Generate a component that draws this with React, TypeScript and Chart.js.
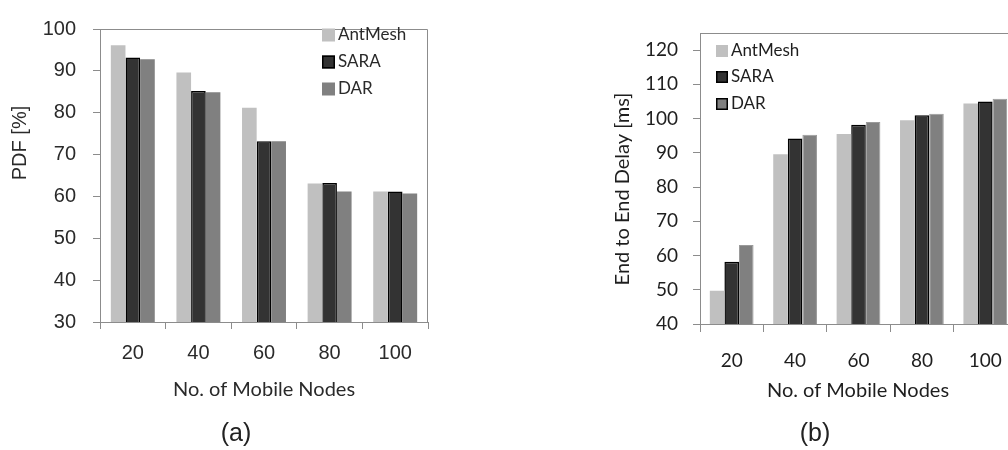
import React, { useEffect, useRef } from 'react';
import { Chart, registerables } from 'chart.js';

Chart.register(...registerables);

// ---------- data ----------
const categories = ['20', '40', '60', '80', '100'];
const seriesNames = ['AntMesh', 'SARA', 'DAR'];

const pdfAntMesh = [96.1, 89.6, 81.2, 63.1, 61.2];
const pdfSara = [93.2, 85.2, 73.2, 63.2, 61.2];
const pdfDar = [92.8, 84.9, 73.2, 61.2, 60.7];
const pdfTicks = [30, 40, 50, 60, 70, 80, 90, 100];

const delayAntMesh = [49.7, 89.6, 95.5, 99.5, 104.4];
const delaySara = [58.2, 94.2, 98.2, 101.0, 105.0];
const delayDar = [63.1, 95.3, 99.0, 101.4, 105.8];
const delayTicks = [40, 50, 60, 70, 80, 90, 100, 110, 120];

const seriesColors = ['#c0c0c0', '#333333', '#808080'];

// ---------- overlay plugin: frame, legend, axis titles ----------
const overlayPlugin = {
  id: 'overlay',
  afterDraw(chart: any, _args: any, opts: any) {
    const ctx = chart.ctx;
    const a = chart.chartArea;
    ctx.save();
    // top/right frame
    ctx.strokeStyle = opts.frameColor;
    ctx.lineWidth = 1;
    ctx.beginPath();
    ctx.moveTo(a.left, Math.round(a.top) + 0.5);
    ctx.lineTo(Math.round(a.right) - 0.5, Math.round(a.top) + 0.5);
    ctx.lineTo(Math.round(a.right) - 0.5, a.bottom);
    ctx.stroke();

    // legend
    const lg = opts.legend;
    chart.data.datasets.forEach((ds: any, i: number) => {
      const y = lg.y[i];
      const s = lg.size;
      ctx.fillStyle = ds.backgroundColor;
      ctx.fillRect(lg.x, y - s / 2, s, s);
      if (ds.borderWidth) {
        ctx.strokeStyle = '#000';
        ctx.lineWidth = 1.5;
        ctx.strokeRect(lg.x + 0.75, y - s / 2 + 0.75, s - 1.5, s - 1.5);
      }
      ctx.fillStyle = opts.textColor;
      ctx.font = lg.font;
      ctx.textAlign = 'left';
      ctx.textBaseline = 'middle';
      ctx.fillText(ds.label, lg.x + s + lg.gap, y);
    });

    // x title
    ctx.fillStyle = opts.textColor;
    ctx.font = opts.xTitle.font;
    ctx.textAlign = 'center';
    ctx.textBaseline = 'middle';
    ctx.fillText(opts.xTitle.text, opts.xTitle.x, opts.xTitle.y);

    // y title
    ctx.save();
    ctx.translate(opts.yTitle.x, opts.yTitle.y);
    ctx.rotate(-Math.PI / 2);
    ctx.font = opts.yTitle.font;
    ctx.textAlign = 'center';
    ctx.textBaseline = 'middle';
    ctx.fillText(opts.yTitle.text, 0, 0);
    ctx.restore();

    ctx.restore();
  },
};

function makeDatasets(values: number[][], borderB: boolean) {
  return values.map((v, i) => ({
    label: seriesNames[i],
    data: v,
    backgroundColor: seriesColors[i],
    borderColor: i === 1 ? '#000000' : borderB && i === 2 ? '#9a9a9a' : 'transparent',
    borderWidth: i === 1 ? 1.5 : borderB && i === 2 ? 1 : 0,
    borderSkipped: 'bottom' as const,
  }));
}

function PdfChart() {
  const ref = useRef<HTMLCanvasElement>(null);
  useEffect(() => {
    if (!ref.current) return;
    const chart = new Chart(ref.current, {
      type: 'bar',
      data: {
        labels: categories,
        datasets: makeDatasets([pdfAntMesh, pdfSara, pdfDar], false),
      },
      options: {
        animation: false,
        responsive: false,
        layout: { padding: { left: 0, top: 16, right: 12, bottom: 0 } },
        datasets: { bar: { categoryPercentage: 0.67, barPercentage: 1.0 } },
        plugins: {
          legend: { display: false },
          tooltip: { enabled: false },
          overlay: {
            frameColor: '#8c8c8c',
            textColor: '#2a2a2a',
            legend: { x: 322, y: [35, 62, 89], size: 13, gap: 3, font: '17px Lato' },
            xTitle: { text: 'No. of Mobile Nodes', x: 264, y: 390, font: '20px Lato' },
            yTitle: { text: 'PDF [%]', x: 20, y: 143, font: '20px "Liberation Sans"' },
          },
        } as any,
        scales: {
          x: {
            type: 'category',
            offset: true,
            afterFit: (s: any) => { s.height = 98; },
            grid: { display: true, offset: true, drawOnChartArea: false, drawTicks: true, tickLength: 7, color: '#8c8c8c' },
            border: { display: true, color: '#8c8c8c' },
            ticks: { font: { family: '"Liberation Sans"', size: 20 }, color: '#2a2a2a', padding: 12 },
          },
          y: {
            min: 30,
            max: 100,
            afterFit: (s: any) => { s.width = 100; },
            afterBuildTicks: (s: any) => { s.ticks = pdfTicks.map((v) => ({ value: v })); },
            grid: { display: true, drawOnChartArea: false, drawTicks: true, tickLength: 7, color: '#8c8c8c' },
            border: { display: true, color: '#8c8c8c' },
            ticks: { font: { family: '"Liberation Sans"', size: 20 }, color: '#2a2a2a', padding: 17 },
          },
        },
      },
      plugins: [overlayPlugin],
    });
    return () => chart.destroy();
  }, []);
  return (
    <canvas
      ref={ref}
      width={440}
      height={420}
      style={{ position: 'absolute', left: 0, top: 0, width: 440, height: 420 }}
    />
  );
}

function DelayChart() {
  const ref = useRef<HTMLCanvasElement>(null);
  useEffect(() => {
    if (!ref.current) return;
    const chart = new Chart(ref.current, {
      type: 'bar',
      data: {
        labels: categories,
        datasets: makeDatasets([delayAntMesh, delaySara, delayDar], true),
      },
      options: {
        animation: false,
        responsive: false,
        layout: { padding: { left: 0, top: 33, right: 23, bottom: 0 } },
        datasets: { bar: { categoryPercentage: 0.69, barPercentage: 1.0 } },
        plugins: {
          legend: { display: false },
          tooltip: { enabled: false },
          overlay: {
            frameColor: '#8c8c8c',
            textColor: '#1e1e1e',
            legend: { x: 176, y: [51, 77, 104], size: 12, gap: 3, font: '17px Lato' },
            xTitle: { text: 'No. of Mobile Nodes', x: 318, y: 391, font: '20px Lato' },
            yTitle: { text: 'End to End Delay [ms]', x: 83, y: 189, font: '20px Lato' },
          },
        } as any,
        scales: {
          x: {
            type: 'category',
            offset: true,
            afterFit: (s: any) => { s.height = 96; },
            grid: { display: true, offset: true, drawOnChartArea: false, drawTicks: true, tickLength: 8, color: '#8c8c8c' },
            border: { display: true, color: '#8c8c8c' },
            ticks: { font: { family: 'Lato', size: 19 }, color: '#1e1e1e', padding: 17 },
          },
          y: {
            min: 40,
            max: 125,
            afterFit: (s: any) => { s.width = 160; },
            afterBuildTicks: (s: any) => { s.ticks = delayTicks.map((v) => ({ value: v })); },
            grid: { display: true, drawOnChartArea: false, drawTicks: true, tickLength: 7, color: '#8c8c8c' },
            border: { display: true, color: '#8c8c8c' },
            ticks: { font: { family: 'Lato', size: 19 }, color: '#1e1e1e', padding: 15 },
          },
        },
      },
      plugins: [overlayPlugin],
    });
    return () => chart.destroy();
  }, []);
  return (
    <canvas
      ref={ref}
      width={500}
      height={420}
      style={{ position: 'absolute', left: 540, top: 0, width: 500, height: 420 }}
    />
  );
}

export default function App() {
  const caption: React.CSSProperties = {
    position: 'absolute',
    top: 418,
    width: 200,
    textAlign: 'center',
    fontFamily: '"Liberation Sans", Arial, sans-serif',
    fontSize: 25,
    lineHeight: '28px',
    color: '#222',
  };
  return (
    <div
      style={{
        position: 'absolute',
        left: 0,
        top: 0,
        width: 1008,
        height: 450,
        overflow: 'hidden',
        background: '#ffffff',
      }}
    >
      <PdfChart />
      <DelayChart />
      <div style={{ ...caption, left: 136 }}>(a)</div>
      <div style={{ ...caption, left: 715 }}>(b)</div>
    </div>
  );
}
